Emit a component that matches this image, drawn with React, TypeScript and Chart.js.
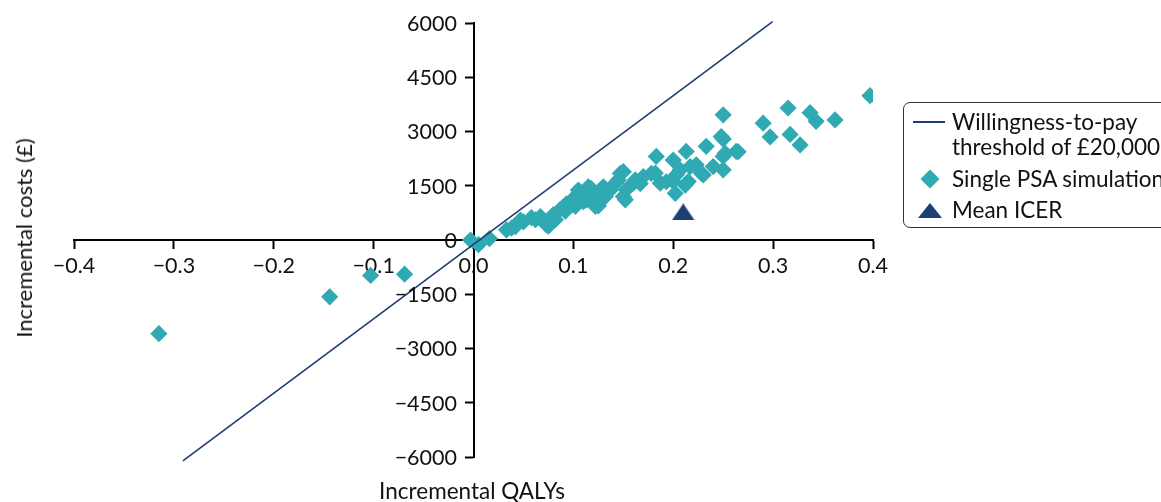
import React, { useEffect, useRef } from "react";
import { Chart, registerables } from "chart.js";

Chart.register(...registerables);

// Scatter of single PSA simulations: incremental QALYs (x) and incremental costs (y)
const psaQalys = [
  -0.315, -0.144, -0.103, -0.069,
  -0.003, 0.005, 0.016,
  0.033, 0.038, 0.042, 0.047, 0.05, 0.058, 0.062, 0.067, 0.073, 0.075,
  0.08, 0.082, 0.087, 0.092, 0.093, 0.097, 0.1, 0.102, 0.105, 0.108,
  0.11, 0.113, 0.115, 0.118, 0.12, 0.122, 0.125, 0.127, 0.13, 0.132,
  0.137, 0.142, 0.145, 0.147, 0.15, 0.15, 0.152, 0.153, 0.16, 0.162,
  0.167, 0.17, 0.178, 0.182, 0.183, 0.187, 0.193, 0.2, 0.2, 0.202,
  0.203, 0.207, 0.212, 0.213, 0.215, 0.217, 0.223, 0.228, 0.23, 0.233,
  0.24, 0.248, 0.25, 0.25, 0.25, 0.25, 0.252, 0.263, 0.265,
  0.29, 0.297, 0.315, 0.317, 0.327, 0.337, 0.343, 0.362, 0.397,
];
const psaCosts = [
  -2590, -1570, -980, -945,
  0, -130, 40,
  280, 330, 370, 550, 500, 620, 560, 650, 420, 380,
  700, 560, 850, 800, 1000, 950, 1150, 930, 1380, 1300,
  1060, 1110, 1470, 1420, 1250, 930, 940, 1330, 1470, 1200,
  1380, 1570, 1660, 1840, 1890, 1200, 1110, 1390, 1570, 1660,
  1560, 1750, 1840, 1850, 2310, 1570, 1610, 2210, 1620, 1290,
  1800, 1940, 1520, 2450, 1620, 2030, 2080, 1850, 1800, 2590,
  2030, 2860, 3460, 1940, 2310, 2790, 2400, 2450, 2440,
  3230, 2850, 3650, 2920, 2630, 3520, 3280, 3320, 3990,
];

// Mean ICER
const meanQalys = [0.21];
const meanCosts = [775];

// Willingness-to-pay threshold line (£20,000 per QALY)
const wtpQalys = [-0.291, 0.2995];
const wtpCosts = [-6110, 6040];

const xTickValues = [-0.4, -0.3, -0.2, -0.1, 0, 0.1, 0.2, 0.3, 0.4];
const yTickValues = [-6000, -4500, -3000, -1500, 0, 1500, 3000, 4500, 6000];

const legendLabels = [
  "Willingness-to-pay",
  "threshold of £20,000",
  "Single PSA simulation",
  "Mean ICER",
];
const xTitle = "Incremental QALYs";
const yTitle = "Incremental costs (£)";

const TEAL = "#2FAAB2";
const NAVY = "#1F3D70";
const TRI = "#1D3F73";
const TEXT = "#111";
const FONT = "Lato, 'Noto Sans', sans-serif";
const TICK_SIZE = 21.5;

function makeTriangle(w: number, h: number, color: string) {
  const c = document.createElement("canvas");
  c.width = w;
  c.height = h;
  const ctx = c.getContext("2d")!;
  ctx.fillStyle = color;
  ctx.beginPath();
  ctx.moveTo(w / 2, 0);
  ctx.lineTo(w, h);
  ctx.lineTo(0, h);
  ctx.closePath();
  ctx.fill();
  return c;
}

const fmtMinus = (s: string) => s.replace("-", "\u2212");

// y tick labels drawn next to the axis that crosses at x = 0
const yLabelPlugin = {
  id: "yAxisLabels",
  afterDraw(chart: any) {
    const ctx = chart.ctx;
    const ys = chart.scales.y;
    const xs = chart.scales.x;
    const x0 = xs.getPixelForValue(0);
    ctx.save();
    ctx.font = `${TICK_SIZE}px ${FONT}`;
    ctx.fillStyle = TEXT;
    ctx.textAlign = "right";
    ctx.textBaseline = "middle";
    yTickValues.forEach((v) => {
      ctx.fillText(fmtMinus(String(v)), x0 - 16.5, ys.getPixelForValue(v) + 1);
    });
    ctx.restore();
  },
};

export default function App() {
  const ref = useRef<HTMLCanvasElement | null>(null);

  useEffect(() => {
    if (!ref.current) return;
    const tri = makeTriangle(23, 17, TRI);
    const chart = new Chart(ref.current, {
      type: "scatter",
      data: {
        datasets: [
          {
            label: "wtp",
            data: wtpQalys.map((x, i) => ({ x, y: wtpCosts[i] })),
            showLine: true,
            borderColor: NAVY,
            borderWidth: 1.6,
            pointRadius: 0,
            clip: false as any,
            order: 0,
          },
          {
            label: "mean",
            data: meanQalys.map((x, i) => ({ x, y: meanCosts[i] })),
            pointStyle: tri as any,
            pointRadius: 10,
            order: 1,
          },
          {
            label: "psa",
            data: psaQalys.map((x, i) => ({ x, y: psaCosts[i] })),
            pointStyle: "rectRot",
            pointRadius: 8.6,
            pointBorderWidth: 0,
            backgroundColor: TEAL,
            borderColor: TEAL,
            order: 2,
          },
        ],
      },
      options: {
        animation: false,
        responsive: false,
        maintainAspectRatio: false,
        layout: { padding: { left: 74, right: 288, top: 23, bottom: 45 } },
        plugins: { legend: { display: false }, tooltip: { enabled: false } },
        scales: {
          x: {
            type: "linear",
            position: { y: 0 } as any,
            min: -0.4,
            max: 0.4,
            afterBuildTicks: (s: any) => {
              s.ticks = xTickValues.map((v) => ({ value: v }));
            },
            ticks: {
              callback: (v: any) => fmtMinus(Number(v).toFixed(1)),
              font: { family: FONT, size: TICK_SIZE },
              color: TEXT,
              padding: 5,
              maxRotation: 0,
              autoSkip: false,
            },
            grid: {
              drawOnChartArea: false,
              drawTicks: true,
              tickLength: 8,
              tickWidth: 2,
              color: "#000",
            },
            border: { display: true, color: "#000", width: 2 },
          },
          y: {
            type: "linear",
            position: { x: 0 } as any,
            min: -6000,
            max: 6000,
            afterBuildTicks: (s: any) => {
              s.ticks = yTickValues.map((v) => ({ value: v }));
            },
            ticks: { display: false },
            grid: {
              drawOnChartArea: false,
              drawTicks: true,
              tickLength: 8,
              tickWidth: 2,
              color: "#000",
            },
            border: { display: true, color: "#000", width: 2 },
          },
        },
      },
      plugins: [yLabelPlugin],
    });
    return () => chart.destroy();
  }, []);

  const textStyle: React.CSSProperties = {
    position: "absolute",
    whiteSpace: "nowrap",
    fontFamily: FONT,
    color: TEXT,
  };
  const legendText = (top: number): React.CSSProperties => ({
    ...textStyle,
    left: 952,
    top: top - 15,
    fontSize: 22.5,
    lineHeight: "30px",
  });

  return (
    <div
      style={{
        position: "fixed",
        left: 0,
        top: 0,
        width: 1161,
        height: 502,
        overflow: "hidden",
        background: "#fff",
      }}
    >
      <canvas
        ref={ref}
        width={1161}
        height={502}
        style={{ position: "absolute", left: 0, top: 0 }}
      />
      {/* axis titles */}
      <div
        style={{
          ...textStyle,
          left: 23.5,
          top: 238,
          fontSize: 22,
          lineHeight: 1,
          transform: "translate(-50%, -50%) rotate(-90deg)",
        }}
      >
        {yTitle}
      </div>
      <div
        style={{
          ...textStyle,
          left: 472,
          top: 491,
          fontSize: 22.5,
          lineHeight: 1,
          transform: "translate(-50%, -50%)",
        }}
      >
        {xTitle}
      </div>
      {/* legend */}
      <div
        style={{
          position: "absolute",
          left: 903,
          top: 102,
          width: 300,
          height: 126,
          border: "1.5px solid #333",
          borderRadius: 7,
          boxSizing: "border-box",
        }}
      />
      <div
        style={{
          position: "absolute",
          left: 913,
          top: 121,
          width: 32,
          height: 2,
          background: NAVY,
        }}
      />
      <div style={legendText(122)}>{legendLabels[0]}</div>
      <div style={legendText(147)}>{legendLabels[1]}</div>
      <svg
        width={20}
        height={20}
        style={{ position: "absolute", left: 920, top: 169 }}
      >
        <polygon points="10,0.5 19.5,10 10,19.5 0.5,10" fill={TEAL} />
      </svg>
      <div style={legendText(179)}>{legendLabels[2]}</div>
      <svg
        width={24}
        height={15}
        style={{ position: "absolute", left: 918, top: 203 }}
      >
        <polygon points="12,0 24,15 0,15" fill={TRI} />
      </svg>
      <div style={legendText(210)}>{legendLabels[3]}</div>
    </div>
  );
}
